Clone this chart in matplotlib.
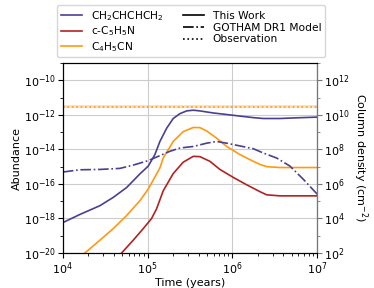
import numpy as np
import matplotlib
matplotlib.use("Agg")
import matplotlib.pyplot as plt
from matplotlib.lines import Line2D
from matplotlib.ticker import LogLocator, NullFormatter

# log10(time / yr) and log10(abundance)
blue_t = [4.0, 4.20, 4.437, 4.594, 4.752, 4.909, 5.007, 5.086, 5.145, 5.224, 5.302, 5.381,
          5.46, 5.539, 5.617, 5.775, 5.933, 6.09, 6.247, 6.365, 6.56, 6.76, 7.0]
blue_a = [-18.24, -17.77, -17.26, -16.78, -16.21, -15.42, -14.97, -14.3, -13.54, -12.78, -12.21, -11.93,
          -11.77, -11.73, -11.77, -11.89, -11.98, -12.07, -12.16, -12.21, -12.21, -12.17, -12.13]

orange_t = [4.26, 4.437, 4.594, 4.752, 4.909, 5.007, 5.086, 5.145, 5.184, 5.302, 5.42, 5.539,
            5.617, 5.696, 5.814, 5.933, 6.09, 6.247, 6.326, 6.405, 6.56, 7.0]
orange_a = [-20.0, -19.26, -18.59, -17.83, -16.97, -16.3, -15.6, -15.07, -14.5, -13.54, -12.97, -12.73,
            -12.74, -12.93, -13.35, -13.83, -14.3, -14.69, -14.87, -15.0, -15.05, -15.05]

red_t = [4.693, 4.83, 4.948, 5.047, 5.105, 5.184, 5.302, 5.42, 5.539, 5.617, 5.735, 5.853,
         6.01, 6.169, 6.326, 6.405, 6.56, 7.0]
red_a = [-20.0, -19.26, -18.59, -18.0, -17.45, -16.4, -15.4, -14.74, -14.4, -14.42, -14.69, -15.16,
         -15.62, -16.05, -16.45, -16.63, -16.69, -16.69]

gotham_t = [4.0, 4.2, 4.437, 4.673, 4.83, 5.007, 5.145, 5.263, 5.381, 5.539, 5.696, 5.814,
            5.933, 6.09, 6.247, 6.365, 6.523, 6.68, 6.837, 7.0]
gotham_a = [-15.31, -15.18, -15.16, -15.1, -14.91, -14.65, -14.36, -14.11, -13.92, -13.83, -13.64, -13.54,
            -13.64, -13.8, -13.96, -14.21, -14.5, -14.97, -15.73, -16.59]

obs_value = 3.0e-12
obs_low, obs_high = 2.5e-12, 3.7e-12

labels = ["CH$_2$CHCHCH$_2$", "c-C$_5$H$_5$N", "C$_4$H$_5$CN"]
colors = ["#4B3F91", "#B22222", "#FF9912"]
col_factor = 1e22

plt.rcParams['font.family'] = ['DejaVu Sans']
fig = plt.figure(figsize=(3.74, 2.88), dpi=100)
ax = fig.add_axes([0.168, 0.1215, 0.68, 0.6595])

def tp(v):
    return 10 ** np.array(v)

lw = 1.2
ax.plot(tp(blue_t), tp(blue_a), color=colors[0], lw=lw)
ax.plot(tp(red_t), tp(red_a), color=colors[1], lw=lw)
ax.plot(tp(orange_t), tp(orange_a), color=colors[2], lw=lw)
ax.plot(tp(gotham_t), tp(gotham_a), color=colors[0], lw=lw, ls='-.')
ax.axhspan(obs_low, obs_high, color=colors[2], alpha=0.3, lw=0)
ax.axhline(obs_value, color=colors[2], lw=lw, ls=':')

ax.set_xscale('log')
ax.set_yscale('log')
ax.set_xlim(1e4, 1e7)
ax.set_ylim(1e-20, 1e-9)
ax.set_yticks([1e-20, 1e-18, 1e-16, 1e-14, 1e-12, 1e-10])
ax.yaxis.set_minor_locator(LogLocator(base=10, subs=[1.0], numticks=30))
ax.yaxis.set_minor_formatter(NullFormatter())
ax.xaxis.set_minor_locator(LogLocator(base=10, subs=np.arange(2, 10), numticks=30))
ax.grid(True, which='major', color='#cccccc', lw=0.8)
ax.set_xlabel("Time (years)", fontsize=8, labelpad=1)
ax.set_ylabel("Abundance", fontsize=8, labelpad=1)
ax.tick_params(labelsize=8, pad=1.5)

ax2 = ax.twinx()
ax2.set_yscale('log')
ax2.set_ylim(1e-20 * col_factor, 1e-9 * col_factor)
ax2.set_yticks([1e2, 1e4, 1e6, 1e8, 1e10, 1e12])
ax2.yaxis.set_minor_locator(LogLocator(base=10, subs=[1.0], numticks=30))
ax2.yaxis.set_minor_formatter(NullFormatter())
ax2.spines['right'].set_color('#777777')
ax2.tick_params(axis='y', which='both', colors='#777777', labelcolor='black', labelsize=8, pad=1.5)
ax2.set_ylabel("Column density (cm$^{-2}$)", fontsize=8, rotation=270, labelpad=14)

handles = [
    Line2D([], [], color=colors[0], lw=lw),
    Line2D([], [], color=colors[1], lw=lw),
    Line2D([], [], color=colors[2], lw=lw),
    Line2D([], [], color='black', lw=lw, ls='-'),
    Line2D([], [], color='black', lw=lw, ls='-.'),
    Line2D([], [], color='black', lw=lw, ls=':'),
]
leg_labels = labels + ["This Work", "GOTHAM DR1 Model", "Observation"]
fig.legend(handles, leg_labels, ncol=2, loc='upper center', bbox_to_anchor=(0.511, 1.0),
           fontsize=7.7, frameon=True, handlelength=2.0, columnspacing=1.8,
           labelspacing=0.15, borderpad=0.35)

fig.savefig("out.png", dpi=100)
